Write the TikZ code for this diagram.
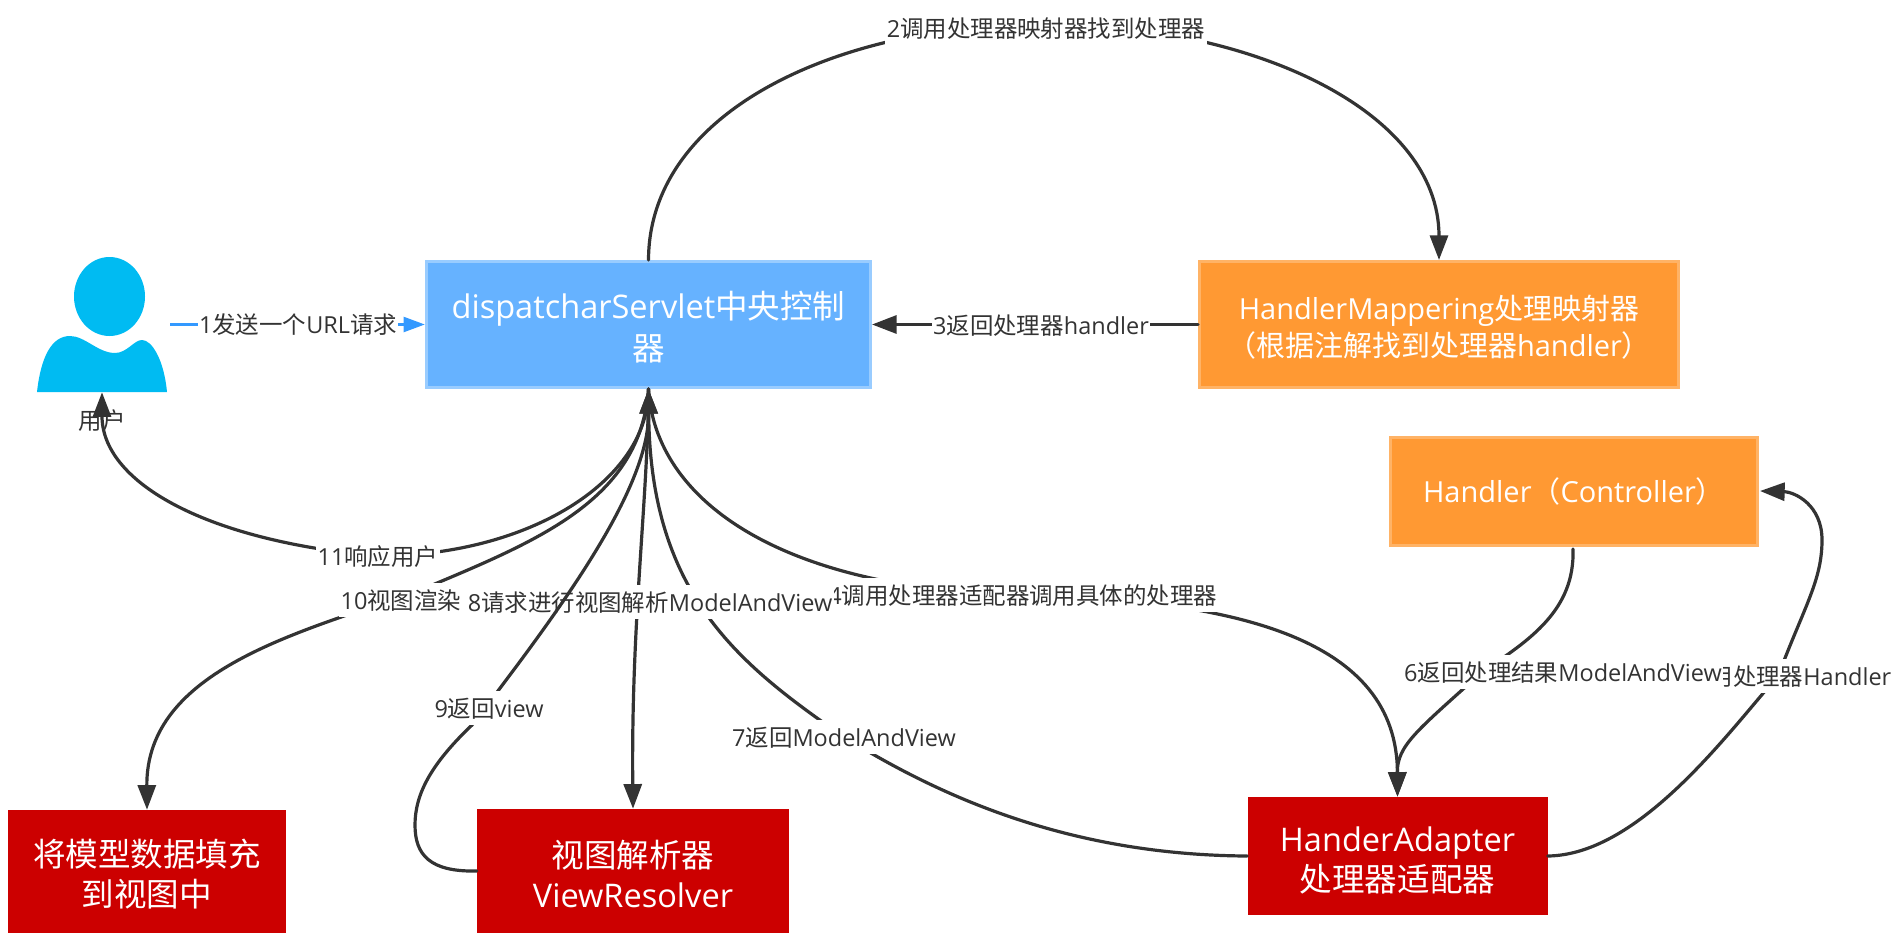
\documentclass[tikz,border=0pt]{standalone}
\usepackage{fontspec}
\setmainfont{Noto Sans CJK SC}
\newfontfamily\latfont{Open Sans}
\newcommand\lat[1]{{\latfont #1}}
\newcommand\dn{\rule{0pt}{1.03em}}
\usetikzlibrary{arrows.meta}
\def\pxu{0.75pt}
\definecolor{ink}{HTML}{333333}
\definecolor{bluefill}{HTML}{66B2FF}
\definecolor{blueedge}{HTML}{99CCFF}
\definecolor{bluelink}{HTML}{3399FF}
\definecolor{orangefill}{HTML}{FF9933}
\definecolor{orangeedge}{HTML}{FFB366}
\definecolor{redfill}{HTML}{CC0000}
\definecolor{personcol}{HTML}{00BBF2}
\tikzset{
  box/.style={rectangle,inner sep=0pt,align=center,text=white},
  bluebox/.style={box,fill=bluefill,draw=blueedge,line width=3*\pxu,font=\fontsize{24.4pt}{31.5pt}\selectfont},
  orangebox/.style={box,fill=orangefill,draw=orangeedge,line width=3*\pxu,font=\fontsize{21.75pt}{27.5pt}\selectfont},
  redbox/.style={box,fill=redfill,font=\fontsize{24.4pt}{30pt}\selectfont},
  link/.style={line width=3.2*\pxu,draw=ink,line cap=round},
  arrowlink/.style={link,-{Triangle[length=18.5pt,width=13.5pt]}},
  bluelinkstyle/.style={line width=3.2*\pxu,draw=bluelink,-{Triangle[length=16pt,width=11pt]}},
  lab/.style={fill=white,text=ink,inner xsep=1.5*\pxu,inner ysep=5.5*\pxu,text height=21*\pxu,text depth=2*\pxu,font=\fontsize{17.6pt}{20pt}\selectfont},
  plain/.style={text=ink,inner sep=0pt,font=\fontsize{17.6pt}{20pt}\selectfont}
}
\begin{document}
\begin{tikzpicture}[x=0.75pt,y=-0.75pt]
\useasboundingbox (0,0) rectangle (1902,942);
% person
\fill[personcol] (109.5,296.5) ellipse [x radius=35.5,y radius=39.5];
\fill[personcol] (37,392) .. controls (41,356) and (52,336) .. (70,336) .. controls (85,336) and (98,353) .. (115,353) .. controls (127,353) and (134,340) .. (142,340) .. controls (152,340) and (164,360) .. (167,392) -- cycle;
\node[minimum width=136*\pxu,minimum height=135*\pxu,inner sep=0pt] (user) at (102,324.5) {};
\node[plain] (userlab) at (102,421) {用户};
% boxes
\node[bluebox,minimum width=444*\pxu,minimum height=126*\pxu] (disp) at (648.5,324.5) {\dn\lat{dispatcharServlet}中央控制\\器};
\node[orangebox,minimum width=479*\pxu,minimum height=126*\pxu] (mapping) at (1439,324.5) {\dn\lat{HandlerMappering}处理映射器\\（根据注解找到处理器\lat{handler}）};
\node[orangebox,minimum width=367*\pxu,minimum height=108*\pxu] (handler) at (1574,491.5) {\lat{Handler}（\lat{Controller}）};
\node[redbox,minimum width=278*\pxu,minimum height=123*\pxu] (fillbox) at (147,871.5) {\dn 将模型数据填充\\到视图中};
\node[redbox,minimum width=312*\pxu,minimum height=124*\pxu] (resolver) at (633,871) {\dn 视图解析器\\\lat{ViewResolver}};
\node[redbox,minimum width=300*\pxu,minimum height=118*\pxu] (adapter) at (1397.5,856) {\dn\lat{HanderAdapter}\\处理器适配器};
% waypoints
\coordinate (m2) at (1045,24);
\coordinate (m4) at (1024,595);
\coordinate (m5a) at (1778,676);
\coordinate (m5b) at (1822,540);
\coordinate (m6) at (1482,672);
\coordinate (m7) at (844,737);
\coordinate (m9a) at (415,825);
\coordinate (m9b) at (472,725);
\coordinate (m10) at (418,591);
\coordinate (m11) at (377,556);
\coordinate (handlerin) at (1760,491);
\coordinate (handlerout) at (1573,549);
% 1
\draw[bluelinkstyle] (user.east) -- (disp.west);
\node[lab] (l1) at (298,324) {\lat{1}发送一个\lat{URL}请求};
% 2
\draw[arrowlink] (disp.north) .. controls (649,110) and (840,24) .. (m2) .. controls (1250,24) and (1439,110) .. (mapping.north);
\node[lab] (l2) at (1046,28) {\lat{2}调用处理器映射器找到处理器};
% 3
\draw[arrowlink] (mapping.west) -- (disp.east);
\node[lab] (l3) at (1041,325) {\lat{3}返回处理器\lat{handler}};
% 4
\draw[arrowlink] (disp.south) .. controls (655,500) and (780,590) .. (m4) .. controls (1240,600) and (1397,640) .. (adapter.north);
\node[lab,anchor=east] (l4) at (1219,595) {\lat{4}调用处理器适配器调用具体的处理器};
% 5
\draw[arrowlink] (adapter.east) .. controls (1640,855) and (1730,730) .. (m5a) .. controls (1805,605) and (1822,580) .. (m5b) .. controls (1822,505) and (1795,492) .. (handlerin);
\node[lab,anchor=east] (l5) at (1893,676) {\lat{5}调用处理器\lat{Handler}};
% 6
\draw[arrowlink] (handlerout) .. controls (1575,610) and (1530,640) .. (m6) .. controls (1418,730) and (1397,745) .. (adapter.north);
\node[lab] (l6) at (1563,672) {\lat{6}返回处理结果\lat{ModelAndView}};
% 7
\draw[arrowlink] (adapter.west) .. controls (1060,855) and (930,790) .. (m7) .. controls (740,665) and (650,595) .. (disp.south);
\node[lab] (l7) at (844,737) {\lat{7}返回\lat{ModelAndView}};
% 8
\draw[arrowlink] (disp.south) .. controls (648,500) and (631,620) .. (resolver.north);
\node[lab] (l8) at (650,602) {\lat{8}请求进行视图解析\lat{ModelAndView}};
% 9
\draw[arrowlink] (resolver.west) .. controls (430,872) and (415,855) .. (m9a) .. controls (415,795) and (430,765) .. (m9b) .. controls (560,610) and (649,490) .. (disp.south);
\node[lab] (l9) at (489,708) {\lat{9}返回\lat{view}};
% 10
\draw[arrowlink] (disp.south) .. controls (640,500) and (540,540) .. (m10) .. controls (300,632) and (146,670) .. (fillbox.north);
\node[lab] (l10) at (401,600) {\lat{10}视图渲染};
% 11
\draw[arrowlink] (disp.south) .. controls (649,480) and (530,556) .. (m11) .. controls (200,540) and (102,480) .. (user.south);
\node[lab] (l11) at (378,556) {\lat{11}响应用户};
\end{tikzpicture}
\end{document}
